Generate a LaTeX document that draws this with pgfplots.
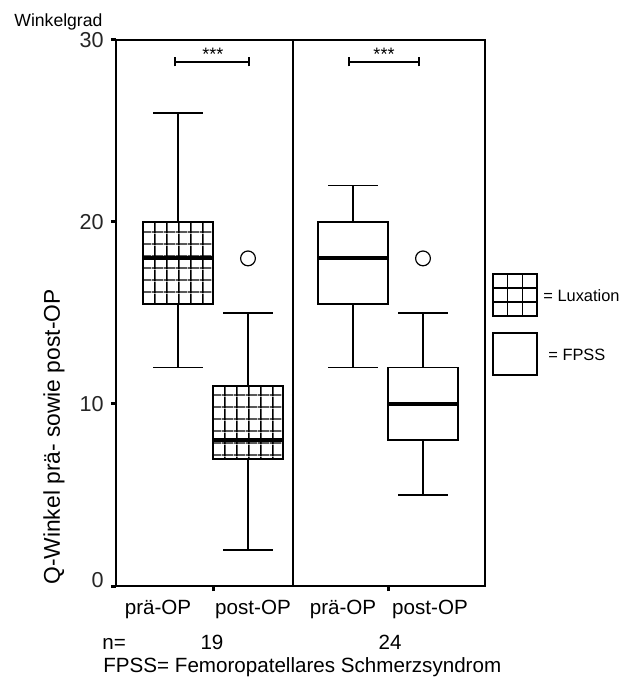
\documentclass[border=0pt]{standalone}
\usepackage{fontspec}
\setmainfont{Liberation Sans}
\usepackage{pgfplots}
\pgfplotsset{compat=1.18}
\usepgfplotslibrary{statistics}
\usetikzlibrary{patterns.meta}

\pgfdeclarepattern{
  name=qgrid, type=uncolored,
  bottom left={\pgfpoint{0pt}{0pt}},
  top right={\pgfpoint{5.8333pt}{5.8333pt}},
  tile size={\pgfpoint{5.8333pt}{5.8333pt}},
  code={
    \pgfsetlinewidth{0.7pt}
    \pgfpathmoveto{\pgfpoint{1.5pt}{0pt}}
    \pgfpathlineto{\pgfpoint{1.5pt}{5.8333pt}}
    \pgfpathmoveto{\pgfpoint{0pt}{0.5pt}}
    \pgfpathlineto{\pgfpoint{5.8333pt}{0.5pt}}
    \pgfusepath{stroke}
  }
}

\begin{document}
\begin{tikzpicture}
\useasboundingbox (-58pt,-46pt) rectangle (256pt,293pt);
\begin{axis}[
  scale only axis, width=184.5pt, height=273pt,
  xmin=0, xmax=36.9, ymin=0, ymax=30,
  axis line style={line width=0.9pt},
  xtick={9.7,27.2}, xticklabels={},
  ytick={0,10,20,30}, yticklabels={\raisebox{6pt}{0},10,20,30},
  xtick pos=bottom, ytick pos=left, tick align=outside,
  major tick length=2.6pt,
  tick style={line width=1.5pt, black},
  yticklabel style={font=\fontsize{10.8}{12}\selectfont, text=black!85},
  clip=false,
  boxplot/draw direction=y,
  boxplot/box extend=7, boxplot/whisker extend=5,
  boxplot/every median/.style={line width=2pt},
]
% Luxation pre-OP
\addplot[black, line width=0.9pt, pattern=qgrid, pattern color=black,
  boxplot prepared={draw position=6.2, lower whisker=12, lower quartile=15.5,
  median=18, upper quartile=20, upper whisker=26}] coordinates {};
% Luxation post-OP
\addplot[black, line width=0.9pt, pattern=qgrid, pattern color=black,
  boxplot prepared={draw position=13.2, lower whisker=2, lower quartile=7,
  median=8, upper quartile=11, upper whisker=15}] coordinates {};
% FPSS pre-OP
\addplot[black, line width=0.9pt, fill=white,
  boxplot prepared={draw position=23.7, lower whisker=12, lower quartile=15.5,
  median=18, upper quartile=20, upper whisker=22}] coordinates {};
% FPSS post-OP
\addplot[black, line width=0.9pt, fill=white,
  boxplot prepared={draw position=30.7, lower whisker=5, lower quartile=8,
  median=10, upper quartile=12, upper whisker=15}] coordinates {};
% outliers
\addplot[only marks, mark=o, mark size=3.7pt, mark options={line width=0.6pt, black}]
  coordinates {(13.2,18) (30.7,18)};
% divider
\draw[line width=0.9pt] (axis cs:17.7,0) -- (axis cs:17.7,30);
% significance brackets
\draw[line width=0.8pt] (axis cs:5.9,28.8) -- (axis cs:13.3,28.8);
\draw[line width=0.8pt] (axis cs:5.9,28.55) -- (axis cs:5.9,29.07);
\draw[line width=0.8pt] (axis cs:13.3,28.55) -- (axis cs:13.3,29.07);
\draw[line width=0.8pt] (axis cs:23.3,28.8) -- (axis cs:30.3,28.8);
\draw[line width=0.8pt] (axis cs:23.3,28.55) -- (axis cs:23.3,29.07);
\draw[line width=0.8pt] (axis cs:30.3,28.55) -- (axis cs:30.3,29.07);
\node[anchor=base, inner sep=0pt, font=\fontsize{9}{9}\selectfont] at (axis cs:9.7,28.85) {***};
\node[anchor=base, inner sep=0pt, font=\fontsize{9}{9}\selectfont] at (axis cs:26.8,28.85) {***};
\end{axis}
% category labels
\begin{scope}[every node/.style={inner sep=0pt, font=\fontsize{10.3}{12}\selectfont}]
\node[anchor=base] at (21pt,-14.5pt) {prä-OP};
\node[anchor=base] at (68.5pt,-14.5pt) {post-OP};
\node[anchor=base] at (113.5pt,-14.5pt) {prä-OP};
\node[anchor=base] at (157pt,-14.5pt) {post-OP};
\node[anchor=base west] at (-7pt,-31.5pt) {n=};
\node[anchor=base] at (48pt,-31.5pt) {19};
\node[anchor=base] at (137pt,-31.5pt) {24};
\node[anchor=base west] at (-6.5pt,-43pt) {FPSS= Femoropatellares Schmerzsyndrom};
\end{scope}
\node[anchor=base west, inner sep=0pt, font=\fontsize{8.8}{10}\selectfont] at (-51pt,279.5pt) {Winkelgrad};
\node[rotate=90, anchor=base, inner sep=0pt, font=\fontsize{11.4}{12}\selectfont] at (-28pt,74.5pt) {Q-Winkel prä- sowie post-OP};
% legend
\draw[line width=0.9pt] (188.5pt,135pt) rectangle (210.5pt,156pt);
\draw[line width=0.8pt] (195.83pt,135pt) -- (195.83pt,156pt) (203.17pt,135pt) -- (203.17pt,156pt)
  (188.5pt,142pt) -- (210.5pt,142pt) (188.5pt,149pt) -- (210.5pt,149pt);
\draw[line width=0.9pt] (188.5pt,105.5pt) rectangle (210.5pt,126.5pt);
\node[anchor=base west, inner sep=0pt, font=\fontsize{8.2}{10}\selectfont] at (213.5pt,142pt) {= Luxation};
\node[anchor=base west, inner sep=0pt, font=\fontsize{8.2}{10}\selectfont] at (216pt,112.5pt) {= FPSS};
\end{tikzpicture}
\end{document}
